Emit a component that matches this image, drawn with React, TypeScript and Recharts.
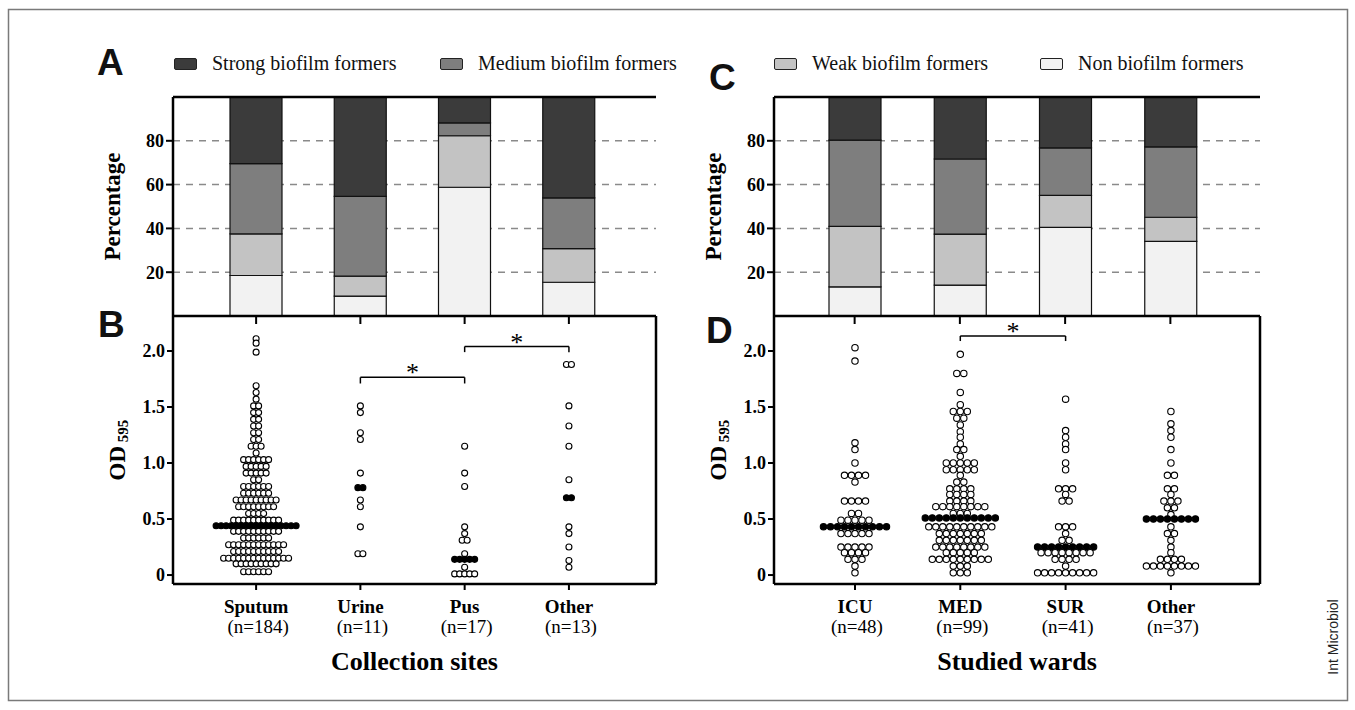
import React from "react";
import {
  Bar,
  BarChart,
  CartesianGrid,
  Legend,
  ReferenceDot,
  ReferenceLine,
  Scatter,
  ScatterChart,
  XAxis,
  YAxis,
} from "recharts";

const SERIF = "'Liberation Serif', 'Times New Roman', serif";
const SANS = "'Liberation Sans', Arial, sans-serif";

const SITES = ["Sputum", "Urine", "Pus", "Other"];
const SITE_N = [184, 11, 17, 13];
const WARDS = ["ICU", "MED", "SUR", "Other"];
const WARD_N = [48, 99, 41, 37];

// percentage of isolates, stacked bottom -> top
const SITE_NON = [18.5, 9.1, 58.8, 15.4];
const SITE_WEAK = [19.0, 9.1, 23.5, 15.4];
const SITE_MEDIUM = [32.1, 36.4, 5.9, 23.1];
const SITE_STRONG = [30.4, 45.4, 11.8, 46.1];

const WARD_NON = [13.3, 14.1, 40.5, 34.1];
const WARD_WEAK = [27.6, 23.3, 14.6, 11.0];
const WARD_MEDIUM = [39.4, 34.3, 21.7, 32.1];
const WARD_STRONG = [19.7, 28.3, 23.2, 22.8];

// OD595 levels: [value, isolates at that level]
type Row = [number, number];
const SPUTUM_OD: Row[] = [
  [2.11, 1], [2.07, 1], [1.99, 1], [1.69, 1], [1.63, 1], [1.57, 1], [1.51, 2], [1.45, 2],
  [1.39, 2], [1.33, 2], [1.27, 2], [1.21, 2], [1.15, 3], [1.09, 1], [1.03, 6], [0.97, 5],
  [0.91, 5], [0.85, 2], [0.79, 6], [0.73, 6], [0.67, 9], [0.61, 8], [0.55, 4], [0.49, 10],
  [0.44, 17], [0.39, 10], [0.33, 6], [0.27, 12], [0.21, 10], [0.15, 14], [0.1, 9], [0.03, 6],
];
const URINE_OD: Row[] = [
  [1.51, 1], [1.45, 1], [1.27, 1], [1.21, 1], [0.91, 1], [0.78, 2], [0.67, 1], [0.61, 1], [0.43, 1], [0.19, 2],
];
const PUS_OD: Row[] = [
  [1.15, 1], [0.91, 1], [0.79, 1], [0.43, 1], [0.37, 1], [0.31, 2], [0.19, 1], [0.14, 5], [0.07, 1], [0.01, 5],
];
const OTHER_SITE_OD: Row[] = [
  [1.88, 2], [1.51, 1], [1.33, 1], [1.15, 1], [0.85, 1], [0.69, 2], [0.43, 1], [0.37, 1], [0.25, 1], [0.13, 1], [0.07, 1],
];
const ICU_OD: Row[] = [
  [2.03, 1], [1.91, 1], [1.18, 1], [1.12, 1], [1.0, 1], [0.89, 4], [0.83, 1], [0.66, 4], [0.55, 2],
  [0.49, 5], [0.43, 10], [0.37, 5], [0.25, 5], [0.2, 4], [0.14, 3], [0.08, 1], [0.02, 1],
];
const MED_OD: Row[] = [
  [1.97, 1], [1.8, 2], [1.63, 1], [1.52, 1], [1.46, 3], [1.4, 2], [1.34, 1], [1.28, 1], [1.23, 1],
  [1.17, 1], [1.12, 2], [1.06, 1], [1.0, 5], [0.94, 5], [0.89, 1], [0.83, 2], [0.77, 4], [0.72, 4],
  [0.66, 4], [0.61, 8], [0.55, 3], [0.51, 11], [0.43, 10], [0.37, 7], [0.31, 7], [0.25, 8], [0.2, 5],
  [0.14, 9], [0.08, 3], [0.02, 3],
];
const SUR_OD: Row[] = [
  [1.57, 1], [1.29, 1], [1.23, 1], [1.17, 1], [1.12, 1], [1.0, 1], [0.94, 1], [0.77, 3], [0.72, 1],
  [0.66, 2], [0.43, 3], [0.37, 1], [0.31, 2], [0.25, 9], [0.2, 8], [0.14, 4], [0.08, 1], [0.02, 9],
];
const OTHER_WARD_OD: Row[] = [
  [1.46, 1], [1.35, 1], [1.29, 1], [1.23, 1], [1.12, 1], [1.0, 1], [0.89, 2], [0.77, 2], [0.72, 1],
  [0.66, 3], [0.6, 2], [0.54, 1], [0.5, 8], [0.43, 1], [0.37, 2], [0.31, 1], [0.25, 1], [0.2, 1],
  [0.14, 4], [0.08, 8], [0.02, 1],
];
const SITE_MEDIAN = [0.44, 0.78, 0.14, 0.69];
const WARD_MEDIAN = [0.43, 0.51, 0.25, 0.5];

// significance brackets between groups (index), in OD units
const SITE_SIG = [
  { from: 1, to: 2, y: 1.765, drop: 0.055, star: 1.84 },
  { from: 2, to: 3, y: 2.04, drop: 0.05, star: 2.11 },
];
const WARD_SIG = [{ from: 1, to: 2, y: 2.134, drop: 0.045, star: 2.205 }];

const CLASSES = [
  { key: "non", name: "Non biofilm formers", color: "#f2f2f2" },
  { key: "weak", name: "Weak biofilm formers", color: "#c3c3c3" },
  { key: "medium", name: "Medium biofilm formers", color: "#7e7e7e" },
  { key: "strong", name: "Strong biofilm formers", color: "#3b3b3b" },
];

const siteBars = SITES.map((name, i) => ({
  name, non: SITE_NON[i], weak: SITE_WEAK[i], medium: SITE_MEDIUM[i], strong: SITE_STRONG[i],
}));
const wardBars = WARDS.map((name, i) => ({
  name, non: WARD_NON[i], weak: WARD_WEAK[i], medium: WARD_MEDIUM[i], strong: WARD_STRONG[i],
}));

function swarm(groups: Row[][], medians: number[]) {
  return groups.flatMap((rows, gi) =>
    rows.flatMap(([od, count]) =>
      Array.from({ length: count }, (_, k) => ({
        x: gi,
        y: od,
        slot: k - (count - 1) / 2,
        median: od === medians[gi],
      }))
    )
  );
}

const sitePoints = swarm([SPUTUM_OD, URINE_OD, PUS_OD, OTHER_SITE_OD], SITE_MEDIAN);
const wardPoints = swarm([ICU_OD, MED_OD, SUR_OD, OTHER_WARD_OD], WARD_MEDIAN);

const AXIS = { stroke: "#000", strokeWidth: 2.5 };
const TICK = { stroke: "#000", strokeWidth: 2 };
const OD_DOMAIN: [number, number] = [-0.08, 2.3125];

function legendRow(names: string[]) {
  return function LegendRow({ payload }: any) {
    const items = names.map((n) => (payload || []).find((p: any) => p.value === n)).filter(Boolean);
    return (
      <div style={{ display: "flex" }}>
        {items.map((p: any) => (
          <div
            key={p.value}
            style={{ width: 266, display: "flex", alignItems: "center", fontFamily: SERIF, fontSize: 20, color: "#111", whiteSpace: "nowrap" }}
          >
            <span
              style={{ display: "inline-block", width: 21, height: 10, background: p.color, border: "1px solid #222", borderRadius: 2, marginRight: 15 }}
            />
            {p.value}
          </div>
        ))}
      </div>
    );
  };
}

function yTitle(kind: "pct" | "od", dx: number) {
  return ({ viewBox }: any) => {
    const cx = viewBox.x + dx;
    const cy = viewBox.y + viewBox.height / 2;
    return (
      <text
        x={cx}
        y={cy}
        transform={`rotate(-90 ${cx} ${cy})`}
        textAnchor="middle"
        dominantBaseline="central"
        fontFamily={SERIF}
        fontWeight="bold"
        fill="#000"
      >
        {kind === "pct" ? (
          <tspan fontSize={23}>Percentage</tspan>
        ) : (
          <>
            <tspan fontSize={23}>OD</tspan>
            <tspan fontSize={15} dy={6}> 595</tspan>
          </>
        )}
      </text>
    );
  };
}

function xTitle(text: string) {
  return ({ viewBox }: any) => (
    <text
      x={viewBox.x + viewBox.width / 2}
      y={viewBox.y + 86}
      textAnchor="middle"
      fontFamily={SERIF}
      fontWeight="bold"
      fontSize={26}
      fill="#000"
    >
      {text}
    </text>
  );
}

function groupTick(names: string[], counts: number[]) {
  return ({ x, y, payload }: any) => {
    const i = payload.value;
    return (
      <g>
        <text x={x} y={y + 21} textAnchor="middle" fontFamily={SERIF} fontWeight="bold" fontSize={19} fill="#000">
          {names[i]}
        </text>
        <text x={x + 2} y={y + 41} textAnchor="middle" fontFamily={SERIF} fontSize={19} fill="#000">
          (n={counts[i]})
        </text>
      </g>
    );
  };
}

function swarmDot(r: number, gap: number) {
  return (p: any) => {
    const { cx, cy, payload } = p;
    return (
      <circle
        cx={cx + payload.slot * gap}
        cy={cy}
        r={r}
        fill={payload.median ? "#000" : "#fff"}
        stroke="#000"
        strokeWidth={1.1}
      />
    );
  };
}

function brackets(sig: typeof SITE_SIG) {
  return sig.flatMap((s, i) => [
    <ReferenceLine key={`h${i}`} segment={[{ x: s.from, y: s.y }, { x: s.to, y: s.y }]} stroke="#000" strokeWidth={1.5} />,
    <ReferenceLine key={`l${i}`} segment={[{ x: s.from, y: s.y - s.drop }, { x: s.from, y: s.y }]} stroke="#000" strokeWidth={1.5} />,
    <ReferenceLine key={`r${i}`} segment={[{ x: s.to, y: s.y - s.drop }, { x: s.to, y: s.y }]} stroke="#000" strokeWidth={1.5} />,
    <ReferenceDot
      key={`s${i}`}
      x={(s.from + s.to) / 2}
      y={s.star}
      r={0}
      shape={(p: any) => (
        <text x={p.cx} y={p.cy + 12} textAnchor="middle" fontFamily={SERIF} fontSize={26} fill="#000">
          *
        </text>
      )}
    />,
  ]);
}

function StackPanel({ data, left, width, padding, legendNames, legendLeft }: any) {
  return (
    <div style={{ position: "absolute", left: 0, top: 0 }}>
      <BarChart width={width} height={340} data={data} margin={{ top: 97, right: width - left.right, bottom: 0, left: left.plot - 40 }}>
        <CartesianGrid vertical={false} stroke="#8a8a8a" strokeDasharray="7 6" strokeWidth={1.5} />
        <XAxis dataKey="name" height={24} padding={padding} axisLine={AXIS} tickLine={TICK} tickSize={8} tickFormatter={() => ""} />
        <YAxis
          width={40}
          domain={[0, 100]}
          ticks={[20, 40, 60, 80]}
          axisLine={AXIS}
          tickLine={TICK}
          tickSize={7}
          tick={{ fontFamily: SERIF, fontWeight: "bold", fontSize: 18, fill: "#000" }}
          label={{ content: yTitle("pct", -21) }}
        />
        <YAxis yAxisId="frame" orientation="right" width={0} domain={[0, 100]} axisLine={AXIS} tick={false} tickLine={false} />
        <ReferenceLine y={100} stroke="#000" strokeWidth={2.5} />
        {CLASSES.map((c) => (
          <Bar key={c.key} dataKey={c.key} name={c.name} stackId="s" fill={c.color} stroke="#111" strokeWidth={1.2} barSize={52} isAnimationActive={false} />
        ))}
        <Legend
          layout="vertical"
          align="center"
          verticalAlign="middle"
          wrapperStyle={{ left: legendLeft, top: 52, width: 560, height: 24 }}
          content={legendRow(legendNames)}
        />
      </BarChart>
    </div>
  );
}

function SwarmPanel({ points, names, counts, left, width, xDomain, title, sig, r, gap }: any) {
  return (
    <div style={{ position: "absolute", left: 0, top: 0 }}>
      <ScatterChart width={width} height={700} margin={{ top: 316, right: width - left.right, bottom: 0, left: left.plot - 40 }}>
        <XAxis
          type="number"
          dataKey="x"
          domain={xDomain}
          ticks={[0, 1, 2, 3]}
          allowDataOverflow
          height={116}
          axisLine={AXIS}
          tickLine={TICK}
          tickSize={6}
          tick={groupTick(names, counts)}
          label={{ content: xTitle(title) }}
        />
        <YAxis
          type="number"
          dataKey="y"
          width={40}
          domain={OD_DOMAIN}
          ticks={[0, 0.5, 1, 1.5, 2]}
          allowDataOverflow
          axisLine={AXIS}
          tickLine={TICK}
          tickSize={6}
          tickFormatter={(v: number) => (v === 0 ? "0" : v.toFixed(1))}
          tick={{ fontFamily: SERIF, fontWeight: "bold", fontSize: 18, fill: "#000" }}
          label={{ content: yTitle("od", -16) }}
        />
        <ReferenceLine x={xDomain[1]} stroke="#000" strokeWidth={2.5} />
        {brackets(sig)}
        <Scatter data={points} shape={swarmDot(r, gap)} isAnimationActive={false} />
      </ScatterChart>
    </div>
  );
}

export default function App() {
  return (
    <div style={{ position: "absolute", left: 0, top: 0, width: 1355, height: 710, background: "#fff", overflow: "hidden" }}>
      <StackPanel
        data={siteBars}
        width={700}
        left={{ plot: 173, right: 656 }}
        padding={{ left: 31, right: 35 }}
        legendNames={["Strong biofilm formers", "Medium biofilm formers"]}
        legendLeft={174}
      />
      <StackPanel
        data={wardBars}
        width={1300}
        left={{ plot: 774, right: 1260 }}
        padding={{ left: 28, right: 37 }}
        legendNames={["Weak biofilm formers", "Non biofilm formers"]}
        legendLeft={774}
      />
      <SwarmPanel
        points={sitePoints}
        names={SITES}
        counts={SITE_N}
        width={700}
        left={{ plot: 173, right: 656 }}
        xDomain={[-0.797, 3.835]}
        title="Collection sites"
        sig={SITE_SIG}
        r={3}
        gap={5}
      />
      <SwarmPanel
        points={wardPoints}
        names={WARDS}
        counts={WARD_N}
        width={1300}
        left={{ plot: 774, right: 1260 }}
        xDomain={[-0.769, 3.846]}
        title="Studied wards"
        sig={WARD_SIG}
        r={3.2}
        gap={7}
      />
      <svg width={1355} height={710} style={{ position: "absolute", left: 0, top: 0, pointerEvents: "none" }}>
        <rect x={8.5} y={9.5} width={1339} height={691} fill="none" stroke="#7a7a7a" strokeWidth={1.5} />
        <g fontFamily={SANS} fontWeight="bold" fontSize={37} fill="#111">
          <text x={97} y={75}>A</text>
          <text x={98} y={337}>B</text>
          <text x={709} y={90}>C</text>
          <text x={706} y={343}>D</text>
        </g>
        <text
          x={1333}
          y={637}
          transform="rotate(-90 1333 637)"
          textAnchor="middle"
          dominantBaseline="central"
          fontFamily={SANS}
          fontSize={14}
          fill="#222"
        >
          Int Microbiol
        </text>
      </svg>
    </div>
  );
}
